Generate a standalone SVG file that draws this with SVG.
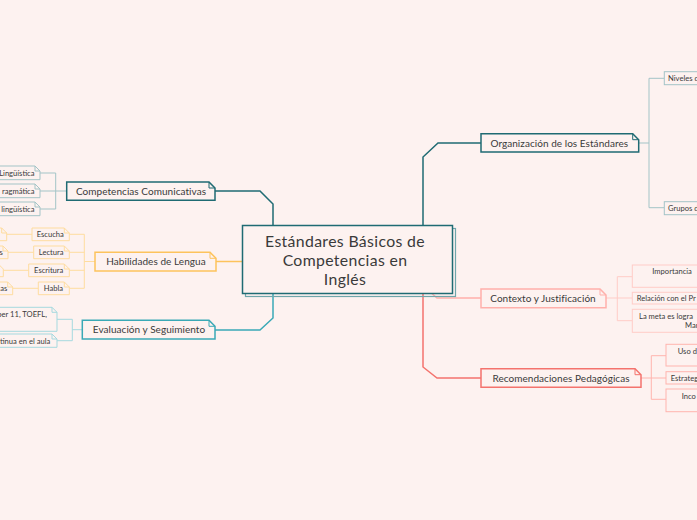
<svg xmlns="http://www.w3.org/2000/svg" width="697" height="520" viewBox="0 0 697 520">
<style>
text{font-family:Lato,"Open Sans","Liberation Sans",sans-serif;fill:#3a3a3a}
.t{font-size:10px;text-anchor:middle;letter-spacing:0.05px}
.c{font-size:15.8px;text-anchor:middle;letter-spacing:0.35px}
.s{font-size:7.6px;text-anchor:middle}
.se{font-size:7.6px;text-anchor:end}
.ss{font-size:7.6px;text-anchor:start}
.ln{fill:none}
.main{fill:#fdf2f0;stroke-width:1.5}
.small{fill:#fdf2f0;stroke-width:1}
.dk{stroke:#1f6b73}
.dkl{stroke:#a3c4c7}
.ye{stroke:#fdc35c}
.yel{stroke:#fedc9f}
.tl{stroke:#3aa9b6}
.tll{stroke:#a5d9df}
.pk{stroke:#ffb0ab}
.pkl{stroke:#ffccc7}
.rd{stroke:#f4736d}
.rdl{stroke:#ffb4ae}
</style>
<rect x="0" y="0" width="697" height="520" fill="#fdf2f0"/>
<g id="connectors" class="ln">
<path class="dk" stroke-width="1.5" d="M273,225 V204 L260,191 H215"/>
<path class="dk" stroke-width="1.5" d="M423,225 V157 L438,143 H481"/>
<path class="ye" stroke-width="1.5" d="M242,261.5 H216"/>
<path class="tl" stroke-width="1.5" d="M273,294 V318 L260,330 H215"/>
<path class="rd" stroke-width="1.5" d="M423,294 V367 L437,378 H481"/>
<path class="pk" stroke-width="1.5" d="M428,290 L437,298 H481"/>
<path class="dkl" stroke-width="1" d="M66.7,191 H55.7 M55.7,173 V209 M55.7,173 H40 M55.7,191 H40 M55.7,209 H40"/>
<path class="yel" stroke-width="1" d="M95,261.5 H84.3 M84.3,234.3 V288.3 M84.3,234.3 H69.3 M84.3,252.3 H69.3 M84.3,270.3 H69.3 M84.3,288.3 H69.3"/>
<path class="yel" stroke-width="1" d="M6.7,234.3 H32 M8,252.3 H33.7 M3.3,270.3 H28.7 M12.7,288.3 H38.3"/>
<path class="tll" stroke-width="1" d="M82.3,329.7 H72.3 M72.3,319.3 V340.7 M72.3,319.3 H57 M72.3,340.7 H57"/>
<path class="dkl" stroke-width="1" d="M638.7,143 H649 M649,78.3 V207.7 M649,78.3 H664.3 M649,207.7 H664.3"/>
<path class="pkl" stroke-width="1" d="M606,298 H617.3 M617.3,276.7 V320.7 M617.3,276.7 H632.3 M617.3,298 H632.3 M617.3,320.7 H632.3"/>
<path class="rdl" stroke-width="1" d="M641,378 H651.3 M651.3,355.7 V399.3 M651.3,355.7 H666 M651.3,378 H666 M651.3,399.3 H666"/>
</g>
<g id="central">
<rect x="245.5" y="228.5" width="210" height="68" fill="none" stroke="#6fa6ab" stroke-width="1.2"/>
<rect x="242.5" y="225.5" width="210" height="68" class="main dk"/>
<text class="c" x="345" y="247">Estándares Básicos de</text>
<text class="c" x="345" y="266">Competencias en</text>
<text class="c" x="345" y="285">Inglés</text>
</g>
<g id="competencias">
<path class="main dk" d="M66.7,182 H209 L215,188 V200.3 H66.7 Z"/>
<path class="ln dk" stroke-width="1" d="M209,182 V188 H215"/>
<text class="t" x="141" y="194.6">Competencias Comunicativas</text>
</g>
<g id="comp-1">
<path class="small dkl" d="M-50,166 H35 L40,171 V179.7 H-50 Z"/><path class="ln dkl" d="M35,166 V171 H40"/>
<text class="se" x="34.5" y="175.6">Lingüística</text>
</g>
<g id="comp-2">
<path class="small dkl" d="M-50,184 H35 L40,189 V197.7 H-50 Z"/><path class="ln dkl" d="M35,184 V189 H40"/>
<text class="se" x="34.5" y="193.6">ragmática</text>
</g>
<g id="comp-3">
<path class="small dkl" d="M-50,202 H35 L40,207 V215.7 H-50 Z"/><path class="ln dkl" d="M35,202 V207 H40"/>
<text class="se" x="34.5" y="211.6">lingüística</text>
</g>
<g id="habilidades">
<path class="main ye" d="M95,252.3 H210 L216,258.3 V271 H95 Z"/>
<path class="ln ye" stroke-width="1" d="M210,252.3 V258.3 H216"/>
<text class="t" x="156" y="265.1">Habilidades de Lengua</text>
</g>
<g id="hab-escucha">
<path class="small yel" d="M32,228 H64.3 L69.3,233 V240.7 H32 Z"/><path class="ln yel" d="M64.3,228 V233 H69.3"/>
<text class="s" x="50.3" y="237.3">Escucha</text>
</g>
<g id="hab-lectura">
<path class="small yel" d="M33.7,246 H64.3 L69.3,251 V258.7 H33.7 Z"/><path class="ln yel" d="M64.3,246 V251 H69.3"/>
<text class="s" x="51.2" y="255.3">Lectura</text>
</g>
<g id="hab-escritura">
<path class="small yel" d="M28.7,264 H64.3 L69.3,269 V276.7 H28.7 Z"/><path class="ln yel" d="M64.3,264 V269 H69.3"/>
<text class="s" x="48.7" y="273.3">Escritura</text>
</g>
<g id="hab-habla">
<path class="small yel" d="M38.3,282 H64.3 L69.3,287 V294.7 H38.3 Z"/><path class="ln yel" d="M64.3,282 V287 H69.3"/>
<text class="s" x="53.5" y="291.3">Habla</text>
</g>
<g id="hab-escucha-1">
<path class="small yel" d="M-40,228 H1.7 L6.7,233 V240.7 H-40 Z"/><path class="ln yel" d="M1.7,228 V233 H6.7"/>
</g>
<g id="hab-lectura-1">
<path class="small yel" d="M-40,246 H3 L8,251 V258.7 H-40 Z"/><path class="ln yel" d="M3,246 V251 H8"/>
<text class="se" x="2.8" y="255.3">s</text>
</g>
<g id="hab-escritura-1">
<path class="small yel" d="M-40,264 H-1.7 L3.3,269 V276.7 H-40 Z"/>
</g>
<g id="hab-habla-1">
<path class="small yel" d="M-40,282 H7.7 L12.7,287 V294.7 H-40 Z"/><path class="ln yel" d="M7.7,282 V287 H12.7"/>
<text class="se" x="7.2" y="291.3">as</text>
</g>
<g id="evaluacion">
<path class="main tl" d="M82.3,320.3 H209 L215,326.3 V339 H82.3 Z"/>
<path class="ln tl" stroke-width="1" d="M209,320.3 V326.3 H215"/>
<text class="t" x="149" y="333.3">Evaluación y Seguimiento</text>
</g>
<g id="eval-1">
<path class="small tll" d="M-50,307.3 H52 L57,312.3 V331.3 H-50 Z"/><path class="ln tll" d="M52,307.3 V312.3 H57"/>
<text class="se" x="47" y="316.6">ber 11, TOEFL,</text>
</g>
<g id="eval-2">
<path class="small tll" d="M-50,334 H52 L57,339 V347.3 H-50 Z"/><path class="ln tll" d="M52,334 V339 H57"/>
<text class="se" x="50.3" y="343.6">tinua en el aula</text>
</g>
<g id="organizacion">
<path class="main dk" d="M481,133.7 H632.7 L638.7,139.7 V152 H481 Z"/>
<path class="ln dk" stroke-width="1" d="M632.7,133.7 V139.7 H638.7"/>
<text class="t" x="559.3" y="146.6">Organización de los Estándares</text>
</g>
<g id="org-1">
<rect class="small dkl" x="664.3" y="71.7" width="60" height="13"/>
<text class="ss" x="668" y="81">Niveles d</text>
</g>
<g id="org-2">
<rect class="small dkl" x="664.3" y="201.7" width="60" height="13"/>
<text class="ss" x="668" y="211">Grupos d</text>
</g>
<g id="contexto">
<path class="main pk" d="M481,289 H600 L606,295 V307.7 H481 Z"/>
<path class="ln pk" stroke-width="1" d="M600,289 V295 H606"/>
<text class="t" x="543" y="301.8">Contexto y Justificación</text>
</g>
<g id="ctx-1">
<rect class="small pkl" x="632.3" y="265" width="90" height="22.3"/>
<text class="ss" x="652.3" y="274.3">Importancia</text>
</g>
<g id="ctx-2">
<rect class="small pkl" x="632.3" y="292.3" width="90" height="11.7"/>
<text class="ss" x="636.7" y="300.8">Relación con el Pr</text>
</g>
<g id="ctx-3">
<rect class="small pkl" x="632.3" y="309.3" width="90" height="23"/>
<text class="ss" x="639" y="318.8">La meta es logra</text>
<text class="ss" x="685" y="328">Mar</text>
</g>
<g id="recomendaciones">
<path class="main rd" d="M481,368.7 H635 L641,374.7 V387.3 H481 Z"/>
<path class="ln rd" stroke-width="1" d="M635,368.7 V374.7 H641"/>
<text class="t" x="561" y="381.6">Recomendaciones Pedagógicas</text>
</g>
<g id="rec-1">
<rect class="small rdl" x="666" y="344.3" width="60" height="21.7"/>
<text class="ss" x="677.7" y="353.6">Uso d</text>
</g>
<g id="rec-2">
<rect class="small rdl" x="666" y="371.7" width="60" height="12.3"/>
<text class="ss" x="670.7" y="380.6">Estrateg</text>
</g>
<g id="rec-3">
<rect class="small rdl" x="666" y="389" width="60" height="22.7"/>
<text class="ss" x="681.7" y="398.9">Inco</text>
</g>
</svg>
